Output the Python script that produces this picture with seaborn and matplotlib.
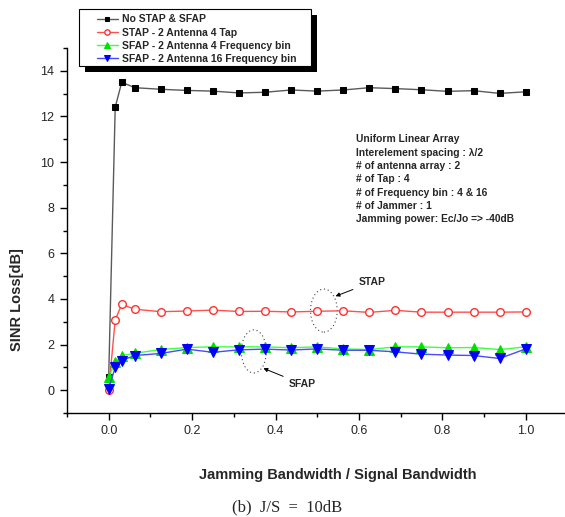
import numpy as np
import pandas as pd
import seaborn as sns
import matplotlib.pyplot as plt
from matplotlib.patches import Ellipse, Rectangle
from matplotlib.ticker import MultipleLocator

# jamming bandwidth / signal bandwidth
bw_ratio = [0.0, 0.015625, 0.03125, 0.0625, 0.125, 0.1875, 0.25, 0.3125, 0.375,
            0.4375, 0.5, 0.5625, 0.625, 0.6875, 0.75, 0.8125, 0.875, 0.9375, 1.0]

no_stap_sfap = [0.6, 12.4, 13.5, 13.26, 13.19, 13.14, 13.11, 13.03, 13.06, 13.16,
                13.11, 13.16, 13.26, 13.22, 13.17, 13.10, 13.13, 13.01, 13.08]
stap_4tap = [0.02, 3.08, 3.76, 3.55, 3.44, 3.47, 3.51, 3.45, 3.46, 3.43,
             3.46, 3.48, 3.41, 3.50, 3.42, 3.42, 3.42, 3.42, 3.43]
sfap_4bin = [0.57, 1.24, 1.51, 1.62, 1.78, 1.87, 1.90, 1.90, 1.90, 1.86,
             1.90, 1.81, 1.78, 1.90, 1.90, 1.86, 1.87, 1.78, 1.90]
sfap_16bin = [0.07, 1.0, 1.30, 1.52, 1.61, 1.80, 1.66, 1.77, 1.80, 1.76,
              1.81, 1.75, 1.75, 1.68, 1.58, 1.54, 1.52, 1.39, 1.81]

series_labels = ["No STAP & SFAP",
                 "STAP - 2 Antenna 4 Tap",
                 "SFAP - 2 Antenna 4 Frequency bin",
                 "SFAP - 2 Antenna 16 Frequency bin"]

info_lines = ["Uniform Linear Array",
              "Interelement spacing : \u03bb/2",
              "# of antenna array : 2",
              "# of Tap : 4",
              "# of Frequency bin : 4 & 16",
              "# of Jammer : 1",
              "Jamming power: Ec/Jo => -40dB"]

sns.set_style("ticks")
plt.rcParams['font.family'] = ['Liberation Sans', 'DejaVu Sans']

W, H = 565, 517
fig = plt.figure(figsize=(W / 100, H / 100), dpi=100)
ax = fig.add_axes([67 / W, 104 / H, 500.4 / W, 365 / H])

styles = [
    dict(color='#5a5a5a', marker='s', markersize=5, markerfacecolor='black', markeredgecolor='black'),
    dict(color='#ff5050', marker='o', markersize=5.5, markerfacecolor='white', markeredgecolor='#ff3030',
         markeredgewidth=1),
    dict(color='#40ff40', marker='^', markersize=6.5, markerfacecolor='#00e000', markeredgecolor='#00e000'),
    dict(color='#4a4aff', marker='v', markersize=6.5, markerfacecolor='#0000ff', markeredgecolor='#0000ff'),
]
for ys, lab, st in zip([no_stap_sfap, stap_4tap, sfap_4bin, sfap_16bin], series_labels, styles):
    sns.lineplot(x=bw_ratio, y=ys, ax=ax, label=lab, linewidth=1, **st)

ax.set_xlim(-0.1, 1.1)
ax.set_ylim(-1, 15)
ax.set_xticks([0.0, 0.2, 0.4, 0.6, 0.8, 1.0])
ax.set_xticklabels(["0.0", "0.2", "0.4", "0.6", "0.8", "1.0"])
ax.set_yticks(range(0, 15, 2))
ax.xaxis.set_minor_locator(MultipleLocator(0.1))
ax.yaxis.set_minor_locator(MultipleLocator(1))
ax.tick_params(which='major', direction='out', length=5, width=1, labelsize=9, pad=4, color='black')
ax.tick_params(which='minor', direction='out', length=3, width=1, color='black')
sns.despine(ax=ax)
for s in ['left', 'bottom']:
    ax.spines[s].set_linewidth(1)
    ax.spines[s].set_color('black')
ax.set_xlabel("")
ax.set_ylabel("")

# axis titles (offset as in the original)
fig.text(338 / W, 1 - 475 / H, "Jamming Bandwidth / Signal Bandwidth", ha='center', va='center',
         fontsize=10.5, fontweight='bold')
fig.text(17 / W, 1 - 300 / H, "SINR Loss[dB]", ha='center', va='center', rotation=90,
         fontsize=10.5, fontweight='bold')
fig.text(287 / W, 1 - 507 / H, "(b)  J/S  =  10dB", ha='center', va='center',
         fontsize=12, family='Liberation Serif')

# legend: own frame + hard shadow, frameless legend on top
bx0, by0, bx1, by1 = 79, 9.3, 311, 66
fig.patches.append(Rectangle((bx0 / W + 6 / W, 1 - (by1 + 6) / H), (bx1 - bx0) / W, (by1 - by0) / H,
                             transform=fig.transFigure, facecolor='black', edgecolor='none', zorder=8))
fig.patches.append(Rectangle((bx0 / W, 1 - by1 / H), (bx1 - bx0) / W, (by1 - by0) / H,
                             transform=fig.transFigure, facecolor='white', edgecolor='black',
                             linewidth=0.8, zorder=9))
handles, labels = ax.get_legend_handles_labels()
ax.get_legend().remove()
leg = fig.legend(handles, labels, loc='upper left', bbox_to_anchor=(97 / W, 1 - 14.5 / H),
                 prop={'weight': 'bold', 'size': 7.5}, frameon=False, borderpad=0,
                 handlelength=2.0, handletextpad=0.4, labelspacing=0.3, borderaxespad=0,
                 markerscale=0.7)
leg.set_zorder(10)

# parameter block
for i, line in enumerate(info_lines):
    fig.text(356 / W, 1 - (139.3 + 13.3 * i) / H, line, ha='left', va='center',
             fontsize=7.4, fontweight='bold')

# dotted ellipses and arrows
ax.add_patch(Ellipse((0.516, 3.49), 0.064, 1.89, fill=False, linestyle=(0, (1, 2.5)),
                     edgecolor='#444444', linewidth=0.8))
ax.add_patch(Ellipse((0.348, 1.70), 0.06, 1.89, fill=False, linestyle=(0, (1, 2.5)),
                     edgecolor='#444444', linewidth=0.8))
ax.annotate("STAP", xy=(0.544, 4.12), xytext=(0.632, 4.74), ha='center', va='center',
            fontsize=7.5, fontweight='bold',
            arrowprops=dict(arrowstyle='-|>', color='black', lw=0.7, mutation_scale=6, shrinkA=2, shrinkB=0))
ax.annotate("SFAP", xy=(0.371, 0.96), xytext=(0.465, 0.26), ha='center', va='center',
            fontsize=7.5, fontweight='bold',
            arrowprops=dict(arrowstyle='-|>', color='black', lw=0.7, mutation_scale=6, shrinkA=2, shrinkB=0))

fig.savefig("out.png", dpi=100)
